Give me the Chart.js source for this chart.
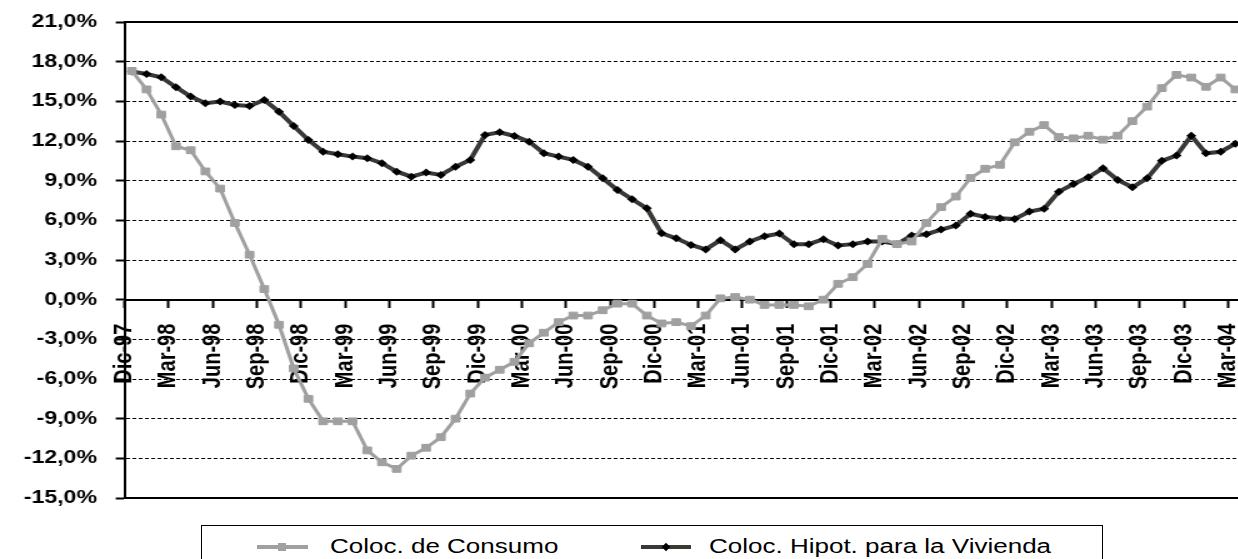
<!DOCTYPE html>
<html>
<head>
<meta charset="utf-8">
<script src="https://cdn.jsdelivr.net/npm/chart.js@4/dist/chart.umd.min.js"></script>
<style>
  html, body { margin: 0; padding: 0; background: #fff; overflow: hidden; }
  body { width: 1238px; height: 559px; position: relative; font-family: "Liberation Sans", Arial, sans-serif; }
  /* the original picture is stretched sideways; draw narrower and widen it */
  #wrap { position: absolute; left: 0; top: 0; width: 1000px; height: 510px;
          transform: scaleX(1.25); transform-origin: 0 0; }
  .lg-box { position: absolute; border: 1.5px solid #000; box-sizing: border-box; }
  .lg-line { position: absolute; height: 4px; }
  .lg-mark { position: absolute; }
  .lg-text { position: absolute; font-size: 20px; line-height: 20px; color: #000; white-space: nowrap;
             transform: scaleX(1.3); transform-origin: 0 50%; }
</style>
</head>
<body>
<div id="wrap"><canvas id="chart" width="1000" height="510"></canvas></div>
<div id="legend"></div>
<script>
// one label every 3 months, Dic-97 .. Mar-04
const tickLabels = ["Dic-97", "Mar-98", "Jun-98", "Sep-98", "Dic-98", "Mar-99", "Jun-99", "Sep-99",
  "Dic-99", "Mar-00", "Jun-00", "Sep-00", "Dic-00", "Mar-01", "Jun-01", "Sep-01", "Dic-01",
  "Mar-02", "Jun-02", "Sep-02", "Dic-02", "Mar-03", "Jun-03", "Sep-03", "Dic-03", "Mar-04"];

const seriesNames = ["Coloc. de Consumo", "Coloc. Hipot. para la Vivienda"];

// monthly values, % (Dic-97 .. Mar-04)
const consumo = [
  17.3, 15.9, 14.0, 11.6, 11.3, 9.7, 8.4, 5.8, 3.4, 0.8,
  -1.9, -5.2, -7.5, -9.2, -9.2, -9.2, -11.4, -12.3, -12.8, -11.8,
  -11.2, -10.4, -9.0, -7.1, -5.9, -5.3, -4.7, -3.3, -2.5, -1.7,
  -1.2, -1.2, -0.8, -0.3, -0.3, -1.2, -1.8, -1.7, -2.0, -1.2,
  0.1, 0.2, 0.0, -0.4, -0.4, -0.4, -0.5, 0.0, 1.2, 1.7,
  2.7, 4.6, 4.2, 4.4, 5.8, 7.0, 7.8, 9.2, 9.9, 10.2,
  11.9, 12.7, 13.2, 12.3, 12.2, 12.4, 12.1, 12.4, 13.5, 14.6,
  16.0, 17.0, 16.8, 16.1, 16.8, 15.9
];
const hipot = [
  17.25, 17.07, 16.82, 16.07, 15.36, 14.86, 14.98, 14.73, 14.65, 15.1,
  14.22, 13.14, 12.08, 11.19, 11.0, 10.82, 10.7, 10.32, 9.68, 9.3,
  9.61, 9.43, 10.06, 10.57, 12.46, 12.66, 12.38, 11.95, 11.07, 10.82,
  10.57, 10.06, 9.18, 8.3, 7.59, 6.91, 5.02, 4.64, 4.14, 3.8,
  4.5, 3.8, 4.4, 4.8, 5.0, 4.2, 4.2, 4.57, 4.1, 4.2,
  4.4, 4.4, 4.2, 4.85, 4.95, 5.3, 5.6, 6.5, 6.25, 6.16,
  6.1, 6.66, 6.88, 8.17, 8.75, 9.25, 9.94, 9.05, 8.5, 9.18,
  10.5, 10.9, 12.4, 11.07, 11.19, 11.8
];

const yMin = -15, yMax = 21, yStep = 3;

const toPoints = arr => arr.map((v, i) => ({ x: i + 0.5, y: v }));
const pct = v => v.toFixed(1).replace(".", ",") + "%";

const FONT = "'Liberation Sans', Arial, sans-serif";
const GREY = "#a0a0a0";
const DARK = "#383a36";

// solid frame lines at top and bottom of the plot
const framePlugin = {
  id: "frame",
  beforeDatasetsDraw(chart) {
    const { ctx, chartArea } = chart;
    ctx.save();
    ctx.strokeStyle = "#000";
    ctx.lineWidth = 2;
    ctx.beginPath();
    ctx.moveTo(chartArea.left, chartArea.top);
    ctx.lineTo(chartArea.right, chartArea.top);
    ctx.moveTo(chartArea.left, chartArea.bottom);
    ctx.lineTo(chartArea.right, chartArea.bottom);
    ctx.stroke();
    ctx.restore();
  }
};

const noPad = scale => {
  scale.paddingLeft = 0;
  scale.paddingRight = 0;
  scale.paddingTop = 0;
  scale.paddingBottom = 0;
};

const ctx = document.getElementById("chart").getContext("2d");
new Chart(ctx, {
  type: "line",
  data: {
    datasets: [
      {
        label: seriesNames[0],
        data: toPoints(consumo),
        borderColor: GREY,
        backgroundColor: GREY,
        borderWidth: 3,
        pointStyle: "rect",
        pointRadius: 4.8,
        pointBorderWidth: 1,
        tension: 0,
      },
      {
        label: seriesNames[1],
        data: toPoints(hipot),
        borderColor: DARK,
        backgroundColor: "#000",
        pointBorderColor: "#000",
        borderWidth: 4,
        pointStyle: "rectRot",
        pointRadius: 4,
        pointBorderWidth: 0,
        tension: 0,
      },
    ],
  },
  options: {
    responsive: false,
    animation: false,
    layout: { padding: { top: 22, bottom: 12, left: 0, right: 0 } },
    plugins: {
      legend: { display: false },
      tooltip: { enabled: false },
    },
    scales: {
      x: {
        type: "linear",
        position: { y: 0 },
        min: 0,
        max: 76,
        afterBuildTicks: scale => {
          scale.ticks = tickLabels.map((_, k) => ({ value: k * 3 }));
        },
        afterFit: scale => { scale.height = 0; noPad(scale); },
        ticks: {
          autoSkip: false,
          maxRotation: 90,
          minRotation: 90,
          padding: 17,
          color: "#000",
          font: { family: FONT, size: 20, weight: "bold" },
          callback: (v, i) => tickLabels[i],
        },
        grid: { drawOnChartArea: false, drawTicks: true, tickLength: 7, tickColor: "#000", tickWidth: 2 },
        border: { display: true, color: "#000", width: 2 },
      },
      y: {
        min: yMin,
        max: yMax,
        afterFit: scale => { scale.width = 99.6; noPad(scale); },
        ticks: {
          stepSize: yStep,
          padding: 15,
          color: "#000",
          font: { family: FONT, size: 18.5, weight: "bold" },
          callback: v => pct(v),
        },
        grid: {
          color: c => (c.tick && [yMin, yMax, 0].includes(c.tick.value)) ? "rgba(0,0,0,0)" : "#000",
          lineWidth: 1,
          tickLength: 7,
          tickColor: "#000",
          tickWidth: 2,
        },
        border: { display: true, color: "#000", width: 2, dash: [3, 2] },
      },
    },
  },
  plugins: [framePlugin],
});

// legend box drawn below the canvas
const legend = document.getElementById("legend");
legend.innerHTML = `
  <div class="lg-box" style="left:201px;top:525px;width:902px;height:60px"></div>
  <div class="lg-line" style="left:257px;top:545px;width:51px;background:${GREY}"></div>
  <div class="lg-mark" style="left:278px;top:543px;width:8px;height:8px;background:${GREY}"></div>
  <span class="lg-text" style="left:330px;top:536px">${seriesNames[0]}</span>
  <div class="lg-line" style="left:641px;top:545px;width:50px;background:${DARK}"></div>
  <div class="lg-mark" style="left:663px;top:544px;width:6px;height:6px;transform:rotate(45deg);background:#000"></div>
  <span class="lg-text" style="left:709px;top:536px">${seriesNames[1]}</span>
`;
</script>
</body>
</html>
